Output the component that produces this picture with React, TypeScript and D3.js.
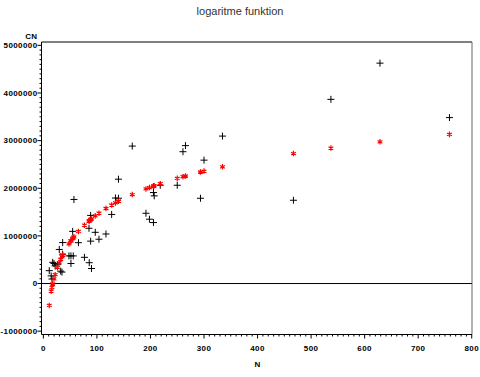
import React from "react";
import * as d3 from "d3";

const title = "logaritme funktion";
const yLabel = "CN";
const xLabel = "N";

const nValues = [
  11, 14.5, 16, 17.4, 19.8, 22, 26.3, 29.7, 32.3, 34.7, 36, 36, 47.8, 51.5, 51.5,
  54.7, 55.8, 57.1, 65.5, 76.7, 85.2, 85.7, 88.3, 88.3, 89.8, 96.9, 103.8, 116.9,
  127.5, 134.6, 140.2, 140.2, 166, 191.6, 198.1, 205.6, 205.6, 207, 218.3, 250,
  260.7, 265.4, 293.4, 300, 334.5, 467, 537, 628.6, 758.4,
];

const cnObserved = [
  270000, 160000, 95000, 445000, 420000, 370000, 395000, 715000, 260000, 240000,
  860000, 615000, 580000, 420000, 580000, 1095000, 580000, 1765000, 857000, 550000,
  1160000, 437000, 1430000, 890000, 315000, 1075000, 930000, 1040000, 1450000,
  1795000, 1790000, 2190000, 2885000, 1475000, 1350000, 1910000, 1280000, 1840000,
  2063000, 2063000, 2767000, 2895000, 1790000, 2590000, 3095000, 1748000, 3866000,
  4626000, 3483000,
];

const cnFitted = [
  -460000, -161000, -79000, -10000, 98000, 186000, 335000, 435000, 505000, 565000,
  596000, 596000, 831000, 894000, 894000, 944000, 960000, 979000, 1094000, 1225000,
  1312000, 1317000, 1342000, 1342000, 1356000, 1420000, 1477000, 1575000, 1648000,
  1692000, 1727000, 1727000, 1867000, 1986000, 2014000, 2045000, 2045000, 2051000,
  2095000, 2207000, 2242000, 2257000, 2341000, 2360000, 2450000, 2728000, 2844000,
  2975000, 3131000,
];

const xTicks = [0, 100, 200, 300, 400, 500, 600, 700, 800];
const yTicks = [-1000000, 0, 1000000, 2000000, 3000000, 4000000, 5000000];

const W = 480;
const H = 377;
const left = 41.5;
const right = 472;
const top = 42;
const bottom = 334.5;

export default function App() {
  const x = d3.scaleLinear().domain([-3.5, 800.5]).range([left, right]);
  const y = d3.scaleLinear().domain([-1070000, 5070000]).range([bottom, top]);

  const xMinor = d3.range(0, 801, 10).filter((v) => v % 100 !== 0);
  const yMinor = d3
    .range(-1000000, 5000001, 100000)
    .filter((v) => Math.round(v) % 1000000 !== 0);

  const plus = d3.symbol(d3.symbolPlus, 18)() as string;
  const star = d3.symbol(d3.symbolAsterisk, 21)() as string;

  const tickFont: React.CSSProperties = {
    fontFamily: "'Liberation Sans', Arial, sans-serif",
    fontWeight: "bold",
    fontSize: 8,
    letterSpacing: 0.4,
  };

  return (
    <svg
      width={W}
      height={H}
      style={{ position: "absolute", left: 0, top: 0, display: "block", background: "#fff" }}
    >
      <text
        x={240}
        y={15}
        textAnchor="middle"
        style={{ fontFamily: "'Liberation Sans', Arial, sans-serif", fontSize: 11, fill: "#333" }}
      >
        {title}
      </text>

      {/* frame */}
      <line x1={left} x2={right} y1={top} y2={top} stroke="#000" strokeWidth={1} />
      <line x1={right} x2={right} y1={top} y2={bottom} stroke="#666" strokeWidth={1} />
      <line x1={left} x2={left} y1={top} y2={bottom} stroke="#000" strokeWidth={1} />
      <line x1={left} x2={right} y1={bottom} y2={bottom} stroke="#000" strokeWidth={1} />

      {/* zero reference line */}
      <line x1={left} x2={right} y1={y(0)} y2={y(0)} stroke="#000" strokeWidth={1} />

      {/* x axis ticks */}
      {xMinor.map((v) => (
        <line key={"xm" + v} x1={x(v)} x2={x(v)} y1={bottom} y2={bottom + 2} stroke="#000" />
      ))}
      {xTicks.map((v) => (
        <g key={"xt" + v}>
          <line x1={x(v)} x2={x(v)} y1={bottom} y2={bottom + 4} stroke="#000" />
          <text x={x(v)} y={351} textAnchor="middle" style={tickFont}>
            {v}
          </text>
        </g>
      ))}

      {/* y axis ticks */}
      {yMinor.map((v) => (
        <line key={"ym" + v} x1={left - 2} x2={left} y1={y(v)} y2={y(v)} stroke="#000" />
      ))}
      {yTicks.map((v) => (
        <g key={"yt" + v}>
          <line x1={left - 4} x2={left} y1={y(v)} y2={y(v)} stroke="#000" />
          <text x={37.5} y={y(v)} dy="0.35em" textAnchor="end" style={tickFont}>
            {v}
          </text>
        </g>
      ))}

      <text x={37.5} y={38.5} textAnchor="end" style={tickFont}>
        {yLabel}
      </text>
      <text x={x(400)} y={367} textAnchor="middle" style={tickFont}>
        {xLabel}
      </text>

      {/* observed */}
      {nValues.map((n, i) => (
        <path
          key={"o" + i}
          d={plus}
          transform={`translate(${x(n)},${y(cnObserved[i])})`}
          fill="none"
          stroke="#000"
          strokeWidth={1}
        />
      ))}

      {/* fitted */}
      {nValues.map((n, i) => (
        <path
          key={"f" + i}
          d={star}
          transform={`translate(${x(n)},${y(cnFitted[i])})`}
          fill="none"
          stroke="#ff0000"
          strokeWidth={1.2}
        />
      ))}
    </svg>
  );
}
